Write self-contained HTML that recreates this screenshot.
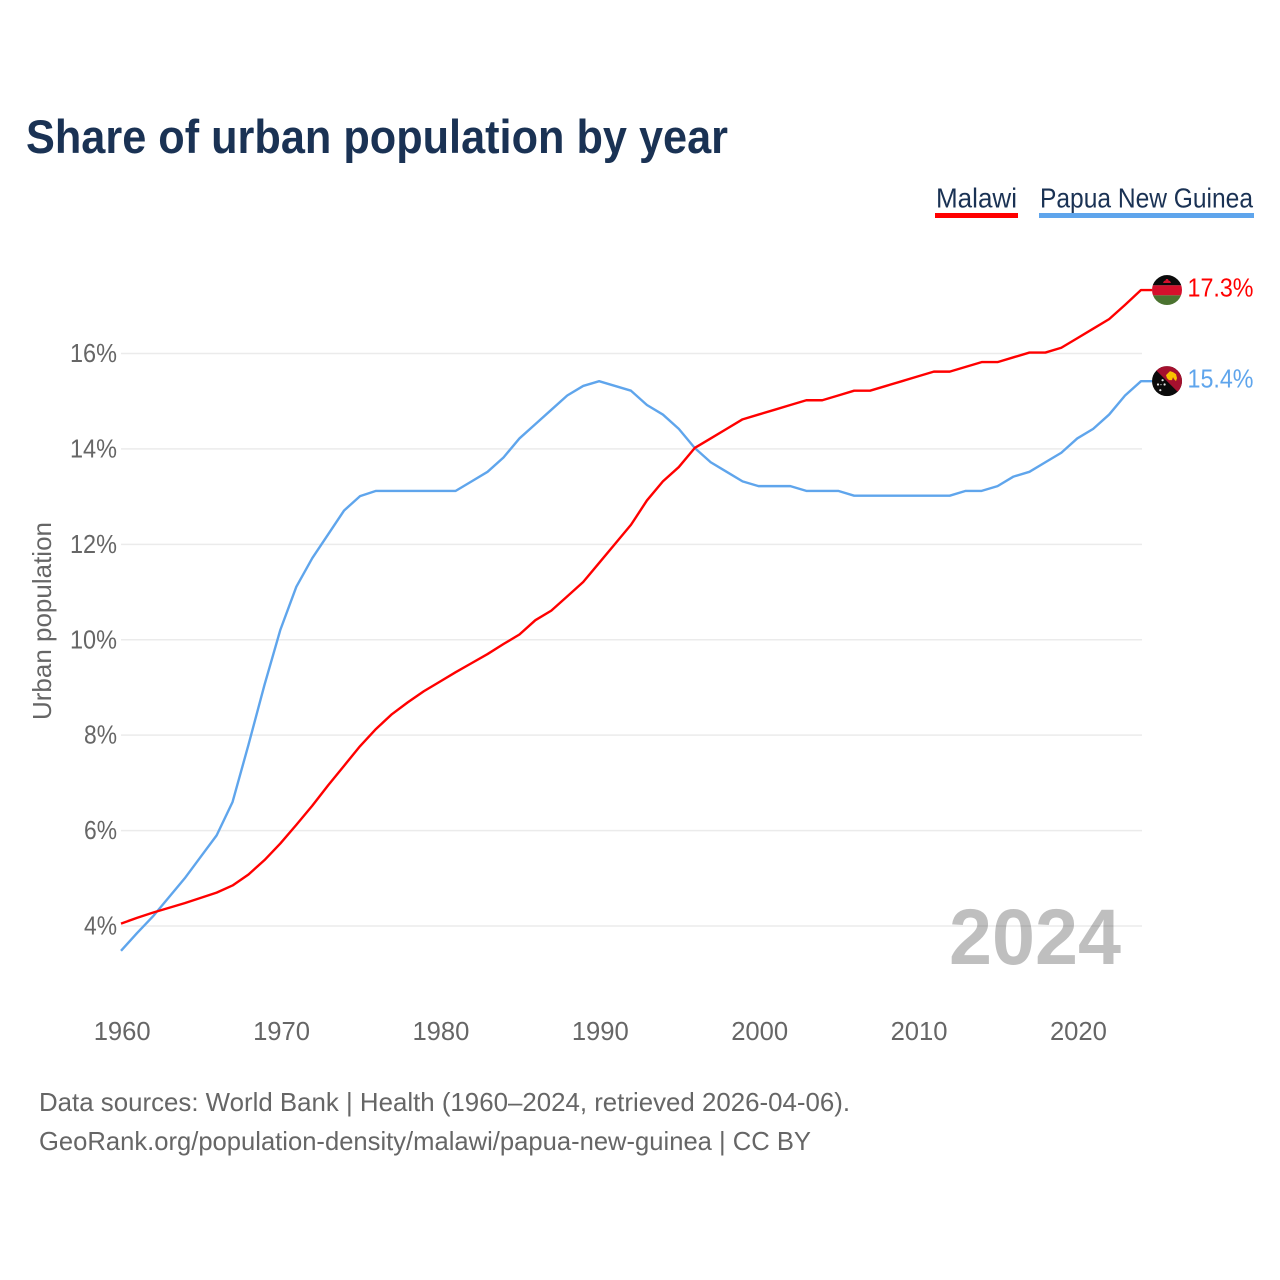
<!DOCTYPE html>
<html lang="en">
<head>
<meta charset="utf-8">
<title>Share of urban population by year</title>
<style>
html,body{margin:0;padding:0;background:#fff;width:1280px;height:1280px;overflow:hidden}
svg{display:block}
text{font-family:"Liberation Sans",sans-serif}
</style>
</head>
<body>
<svg id="chart" xmlns="http://www.w3.org/2000/svg" width="1280" height="1280" viewBox="0 0 1280 1280">
  <defs>
    <clipPath id="flag-clip"><circle cx="0" cy="0" r="15"></circle></clipPath>
  </defs>
  <rect width="1280" height="1280" fill="#fff"></rect>
  <text x="26" y="153" font-size="47" font-weight="700" fill="#1a3254" textLength="702" lengthAdjust="spacingAndGlyphs">Share of urban population by year</text>

  <g>
    <g>
      <text x="936" y="207.5" font-size="27.5" fill="#1a3254" textLength="81" lengthAdjust="spacingAndGlyphs">Malawi</text>
      <rect x="935" y="213" width="83" height="5" fill="#ff0000"></rect>
    </g>
    <g>
      <text x="1040" y="207.5" font-size="27.5" fill="#1a3254" textLength="213" lengthAdjust="spacingAndGlyphs">Papua New Guinea</text>
      <rect x="1039" y="213" width="215" height="5" fill="#5fa5ec"></rect>
    </g>
  </g>

  <g id="grid"></g>
  <g id="y-ticks"></g>
  <g id="x-ticks"></g>
  <text transform="translate(51 621) rotate(-90)" text-anchor="middle" font-size="26" fill="#666" textLength="198" lengthAdjust="spacingAndGlyphs">Urban population</text>
  <text x="949" y="964" font-size="79" font-weight="700" fill="#000" fill-opacity="0.25" textLength="172" lengthAdjust="spacingAndGlyphs">2024</text>

  <g id="series"></g>

  <g id="flag-malawi">
    <g clip-path="url(#flag-clip)">
      <rect x="-15" y="-15" width="30" height="10.3" fill="#0b0b0b"></rect>
      <rect x="-15" y="-4.7" width="30" height="10" fill="#d5102c"></rect>
      <rect x="-15" y="5.3" width="30" height="9.7" fill="#4b7330"></rect>
      <path d="M-4 -7 L-3 -9 L-1.5 -9.5 L-1 -11 L1 -11 L1.5 -9.5 L3 -9 L4 -7 Z" fill="#d5102c"></path>
    </g>
  </g>
  <g id="flag-png">
    <g clip-path="url(#flag-clip)">
      <rect x="-15" y="-15" width="30" height="30" fill="#0b0b0b"></rect>
      <path d="M-15 -15 L15 -15 L15 15 Z" fill="#a5102e"></path>
      <path d="M-1 -6 L1 -8 L3 -10 L6 -9 L9 -7 L10 -3 L9 0 L7 -2 L6 -4 L5 -1 L2 -1 L0 -3 Z" fill="#f8c300"></path>
      <circle cx="-4.4" cy="-1" r="1.1" fill="#e8e8e8"></circle>
      <circle cx="-9" cy="3.3" r="1.1" fill="#e8e8e8"></circle>
      <circle cx="-2.4" cy="3.3" r="1.1" fill="#e8e8e8"></circle>
      <circle cx="-6" cy="3.5" r="0.6" fill="#e8e8e8"></circle>
      <circle cx="-6.7" cy="9" r="1.1" fill="#e8e8e8"></circle>
    </g>
  </g>
  <g id="end-labels"></g>

  <text x="39" y="1111" font-size="26" fill="#666" textLength="811" lengthAdjust="spacingAndGlyphs">Data sources: World Bank | Health (1960–2024, retrieved 2026-04-06).</text>
  <text x="39" y="1150" font-size="26" fill="#666" textLength="772" lengthAdjust="spacingAndGlyphs">GeoRank.org/population-density/malawi/papua-new-guinea | CC BY</text>
</svg>
<script>
const years = [1960,1961,1962,1963,1964,1965,1966,1967,1968,1969,1970,1971,1972,1973,1974,1975,1976,1977,1978,1979,1980,1981,1982,1983,1984,1985,1986,1987,1988,1989,1990,1991,1992,1993,1994,1995,1996,1997,1998,1999,2000,2001,2002,2003,2004,2005,2006,2007,2008,2009,2010,2011,2012,2013,2014,2015,2016,2017,2018,2019,2020,2021,2022,2023,2024];
const malawi = [4.05,4.17,4.28,4.38,4.48,4.59,4.7,4.85,5.08,5.38,5.73,6.12,6.52,6.95,7.36,7.77,8.13,8.44,8.69,8.92,9.12,9.32,9.51,9.7,9.91,10.11,10.41,10.61,10.91,11.21,11.61,12.01,12.41,12.92,13.32,13.62,14.02,14.22,14.42,14.62,14.72,14.82,14.92,15.02,15.02,15.12,15.22,15.22,15.32,15.42,15.52,15.62,15.62,15.72,15.82,15.82,15.92,16.02,16.02,16.12,16.32,16.52,16.72,17.02,17.33];
const papuaNewGuinea = [3.48,3.85,4.2,4.6,5.0,5.45,5.9,6.6,7.8,9.05,10.21,11.11,11.71,12.21,12.71,13.01,13.12,13.12,13.12,13.12,13.12,13.12,13.32,13.52,13.82,14.22,14.52,14.82,15.12,15.32,15.42,15.32,15.22,14.92,14.72,14.42,14.02,13.72,13.52,13.32,13.22,13.22,13.22,13.12,13.12,13.12,13.02,13.02,13.02,13.02,13.02,13.02,13.02,13.12,13.12,13.22,13.42,13.52,13.72,13.92,14.22,14.42,14.72,15.12,15.42];
const yTicks = [4,6,8,10,12,14,16];
const xTicks = [1960,1970,1980,1990,2000,2010,2020];

const NS = 'http://www.w3.org/2000/svg';
const xScale = function (year) { return 121 + (year - 1960) * (1141 - 121) / 64; };
const yScale = function (value) { return 926 - (value - 4) * (926 - 353.5) / 12; };
const make = function (tag, parent, attrs) {
  const el = document.createElementNS(NS, tag);
  Object.keys(attrs).forEach(function (k) { el.setAttribute(k, attrs[k]); });
  parent.appendChild(el);
  return el;
};

const grid = document.getElementById('grid');
const yGroup = document.getElementById('y-ticks');
yTicks.forEach(function (t) {
  const line = make('line', grid, {x1: 121, x2: 1142, y1: yScale(t), y2: yScale(t), stroke: '#ebebeb', 'stroke-width': 1.5});
  
  
  const text = t + '%';
  const label = make('text', yGroup, {x: 117, y: yScale(t) + 8.5, 'text-anchor': 'end', 'font-size': 26, fill: '#666', textLength: text.length === 2 ? 33 : 47, lengthAdjust: 'spacingAndGlyphs'});
  
  
  label.textContent = text;
});

const xGroup = document.getElementById('x-ticks');
xTicks.forEach(function (t) {
  const label = make('text', xGroup, {x: xScale(t) + 1.2, y: 1040, 'text-anchor': 'middle', 'font-size': 26, fill: '#666', textLength: 57, lengthAdjust: 'spacingAndGlyphs'});
  
  
  label.textContent = t;
});

const seriesGroup = document.getElementById('series');
const endLabels = document.getElementById('end-labels');
const drawSeries = function (values, color, key, flagId) {
  const last = values[values.length - 1];
  const pts = values.map(function (v, i) { return xScale(years[i]).toFixed(2) + ',' + yScale(v).toFixed(2); });
  pts.push('1152,' + yScale(last).toFixed(2));
  const line = make('polyline', seriesGroup, {points: pts.join(' '), fill: 'none', stroke: color, 'stroke-width': 2.4, 'stroke-linejoin': 'round'});
  
  
  document.getElementById(flagId).setAttribute('transform', 'translate(1167 ' + yScale(last).toFixed(2) + ')');
  const label = make('text', endLabels, {x: 1187.5, y: yScale(last) + 6.5, 'font-size': 26, fill: color, textLength: 66, lengthAdjust: 'spacingAndGlyphs'});
  
  
  label.textContent = last.toFixed(1) + '%';
};
drawSeries(papuaNewGuinea, '#5fa5ec', 'papua-new-guinea', 'flag-png');
drawSeries(malawi, '#ff0000', 'malawi', 'flag-malawi');
</script>
</body>
</html>
